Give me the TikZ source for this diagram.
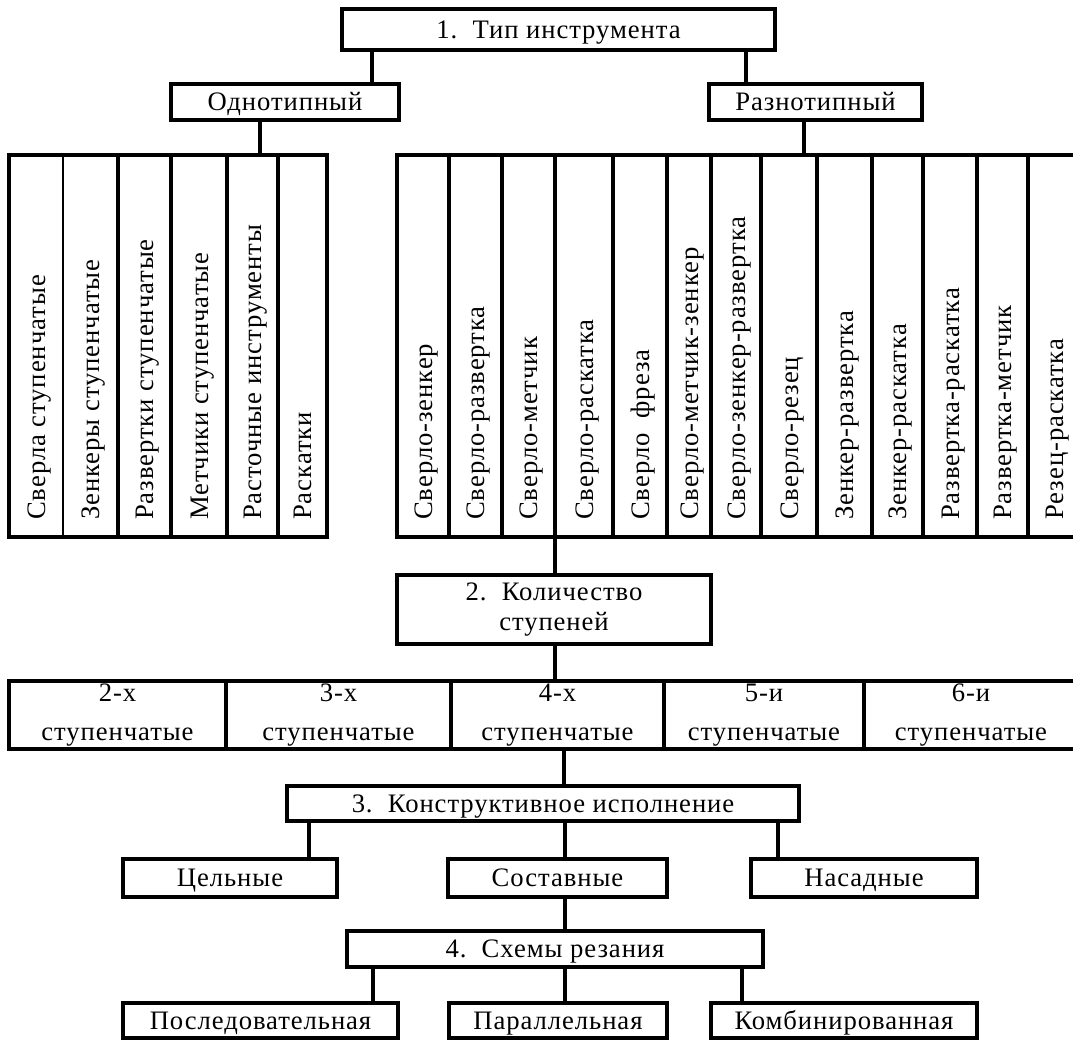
\documentclass[tikz,border=0pt]{standalone}
\usepackage{fontspec}
\setmainfont{Liberation Serif}[LetterSpace=3.5]
\newcommand\ff{\fontsize{20}{25}\selectfont}
\newcommand\ffrow{\fontsize{20}{29}\selectfont}
\newcommand\fftwo{\fontsize{20}{22}\selectfont}
\tikzset{
  box/.style={draw, line width=2.6pt, inner sep=0pt, font=\ff, align=center},
  oneline/.style={text height=13.2pt, text depth=0pt},
  link/.style={line width=2.6pt},
  tab/.style={draw, line width=2.8pt, inner sep=0pt},
  div/.style={line width=2.3pt},
  thindiv/.style={line width=1.1pt},
  vtext/.style={rotate=90, anchor=base west, inner sep=0pt, font=\ff},
}
% name, x1, y1, x2, y2, text (pixel coordinates, y downwards)
\newcommand\mybox[7][oneline]{%
  \node[box,#1,minimum width={(#5-#3)*0.75pt},minimum height={(#6-#4)*0.75pt}]
    (#2) at ({(#3+#5)/2},{(#4+#6)/2}) {#7};}
\begin{document}
\begin{tikzpicture}[x=0.75pt,y=-0.75pt]
\useasboundingbox (0,0) rectangle (1073,1041);
\clip (0,0) rectangle (1073,1041);
\fill[white] (0,0) rectangle (1073,1041);

% --- level 1
\mybox{top}{342}{9}{775}{50}{1.\ \ Тип инструмента}
\mybox{odn}{171}{84}{399}{120}{Однотипный}
\mybox{raz}{709}{84}{922}{120}{Разнотипный}

% --- tables
\node[tab,minimum width={318*0.75pt},minimum height={382*0.75pt}] (ltab) at (168,346) {};
\node[tab,minimum width={688*0.75pt},minimum height={382*0.75pt}] (rtab) at (741,346) {};
\draw[thindiv] (63,155) -- (63,537);
\foreach \x in {118,171,227,278} \draw[div] (\x,155) -- (\x,537);
\foreach \x in {449,502,555,613,667,711,761,817,872,923,977,1028} \draw[div] (\x,155) -- (\x,537);

\node[vtext] (tL1) at (45,520) {Сверла ступенчатые};
\node[vtext] (tL2) at (99.5,520) {Зенкеры ступенчатые};
\node[vtext] (tL3) at (153.5,520) {Развертки ступенчатые};
\node[vtext] (tL4) at (208,520) {Метчики ступенчатые};
\node[vtext] (tL5) at (261.5,520) {Расточные инструменты};
\node[vtext] (tL6) at (311.5,520) {Раскатки};

\node[vtext] (tR1) at (432,520) {Сверло-зенкер};
\node[vtext] (tR2) at (484.5,520) {Сверло-развертка};
\node[vtext] (tR3) at (537.5,520) {Сверло-метчик};
\node[vtext] (tR4) at (593,520) {Сверло-раскатка};
\node[vtext] (tR5) at (649,520) {Сверло\ \ фреза};
\node[vtext] (tR6) at (698,520) {Сверло-метчик-зенкер};
\node[vtext] (tR7) at (745,520) {Сверло-зенкер-развертка};
\node[vtext] (tR8) at (798,520) {Сверло-резец};
\node[vtext] (tR9) at (853.5,520) {Зенкер-развертка};
\node[vtext] (tR10) at (906.5,520) {Зенкер-раскатка};
\node[vtext] (tR11) at (959,520) {Развертка-раскатка};
\node[vtext] (tR12) at (1011.5,520) {Развертка-метчик};
\node[vtext] (tR13) at (1063,520) {Резец-раскатка};

% --- level 2
\mybox[font=\fftwo]{k2}{397}{575}{711}{644}{2.\ \ Количество\\ступеней}
\mybox[font=\ffrow]{s2}{9}{681}{226}{749}{2-х\\ступенчатые}
\mybox[font=\ffrow]{s3}{226}{681}{451}{749}{3-х\\ступенчатые}
\mybox[font=\ffrow]{s4}{451}{681}{664}{749}{4-х\\ступенчатые}
\mybox[font=\ffrow]{s5}{664}{681}{864}{749}{5-и\\ступенчатые}
\mybox[font=\ffrow]{s6}{864}{681}{1078}{749}{6-и\\ступенчатые}

% --- level 3
\mybox{k3}{287}{786}{799}{821}{3.\ \ Конструктивное исполнение}
\mybox{cel}{123}{859}{337}{897}{Цельные}
\mybox{sos}{448}{859}{667}{897}{Составные}
\mybox{nas}{751}{859}{977}{897}{Насадные}

% --- level 4
\mybox{k4}{347}{931}{763}{967}{4.\ \ Схемы резания}
\mybox{pos}{123}{1003}{398}{1038}{Последовательная}
\mybox{par}{449}{1003}{667}{1038}{Параллельная}
\mybox{kom}{711}{1003}{977}{1038}{Комбинированная}

% --- connector x positions
\coordinate (c260) at (260,0);
\coordinate (c309) at (309,0);
\coordinate (c372) at (372,0);
\coordinate (c373) at (373,0);
\coordinate (c555) at (555,0);
\coordinate (c564) at (564,0);
\coordinate (c565) at (565,0);
\coordinate (c742) at (742,0);
\coordinate (c746) at (746,0);
\coordinate (c778) at (778,0);
\coordinate (c804) at (804,0);

% --- connectors
\draw[link] (top.south -| c372) -- (odn.north -| c372);
\draw[link] (top.south -| c746) -- (raz.north -| c746);
\draw[link] (odn.south -| c260) -- (ltab.north -| c260);
\draw[link] (raz.south -| c804) -- (rtab.north -| c804);
\draw[link] (rtab.south -| c555) -- (k2.north -| c555);
\draw[link] (k2.south -| c555) -- (s4.north -| c555);
\draw[link] (s4.south -| c564) -- (k3.north -| c564);
\draw[link] (k3.south -| c309) -- (cel.north -| c309);
\draw[link] (k3.south -| c565) -- (sos.north -| c565);
\draw[link] (k3.south -| c778) -- (nas.north -| c778);
\draw[link] (sos.south -| c565) -- (k4.north -| c565);
\draw[link] (k4.south -| c373) -- (pos.north -| c373);
\draw[link] (k4.south -| c565) -- (par.north -| c565);
\draw[link] (k4.south -| c742) -- (kom.north -| c742);
\end{tikzpicture}
\end{document}
